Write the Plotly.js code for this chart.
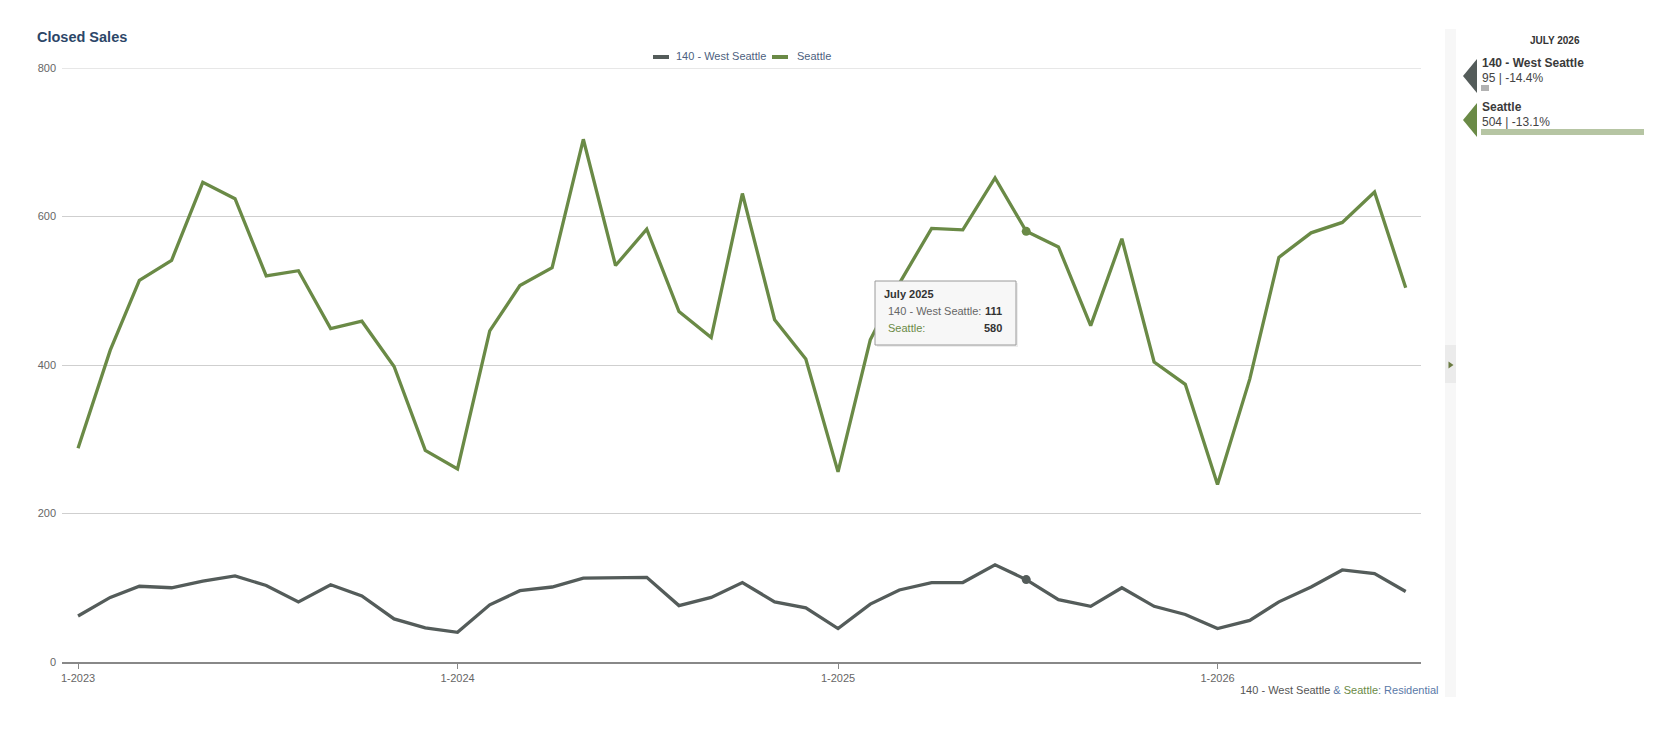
<!DOCTYPE html>
<html><head><meta charset="utf-8">
<script src="https://cdn.plot.ly/plotly-3.0.1.min.js"></script>
<style>html,body{margin:0;padding:0;background:#fff;overflow:hidden}#chart{width:1678px;height:740px}</style>
</head><body><div id="chart"></div>
<script>
// ---------------- DATA ----------------
const months = [
  '2023-01-01','2023-02-01','2023-03-01','2023-04-01','2023-05-01','2023-06-01','2023-07-01','2023-08-01','2023-09-01','2023-10-01','2023-11-01','2023-12-01',
  '2024-01-01','2024-02-01','2024-03-01','2024-04-01','2024-05-01','2024-06-01','2024-07-01','2024-08-01','2024-09-01','2024-10-01','2024-11-01','2024-12-01',
  '2025-01-01','2025-02-01','2025-03-01','2025-04-01','2025-05-01','2025-06-01','2025-07-01','2025-08-01','2025-09-01','2025-10-01','2025-11-01','2025-12-01',
  '2026-01-01','2026-02-01','2026-03-01','2026-04-01','2026-05-01','2026-06-01','2026-07-01'
];
const westSeattle = [
  62, 87, 102, 100, 109, 116, 103, 81, 104, 89, 58, 46,
  40, 77, 96, 101, 113, 114, 114, 76, 87, 107, 81, 73,
  45, 78, 97, 107, 107, 131, 111, 84, 75, 100, 75, 64,
  45, 56, 81, 101, 124, 119, 95
];
const seattle = [
  288, 420, 514, 541, 646, 624, 520, 527, 449, 459, 398, 285,
  260, 446, 507, 531, 704, 534, 583, 472, 437, 631, 461, 408,
  256, 434, 510, 584, 582, 652, 580, 559, 453, 570, 404, 374,
  239, 381, 545, 578, 592, 633, 504
];
const seriesNames = ['140 - West Seattle', 'Seattle'];
const yTicks = [0, 200, 400, 600, 800];
const xTickVals = ['2023-01-01', '2024-01-01', '2025-01-01', '2026-01-01'];
const xTickText = ['1-2023', '1-2024', '1-2025', '1-2026'];
const hoverMonth = '2025-07-01';
const monthNames = ['January','February','March','April','May','June','July','August','September','October','November','December'];
const chartTitle = 'Closed Sales';
const footerParts = ['140 - West Seattle', ' & ', 'Seattle', ': Residential'];

// ---------------- STYLE / LAYOUT ----------------
const FONT = 'Liberation Sans, Arial, Helvetica, sans-serif';
const C_WS = '#545c5a';
const C_SEA = '#6a8a46';
const C_SEA_LIGHT = '#b6c5a3';
const C_BLUE = '#4d5f80';
const C_LINK = '#5a79a8';

const M = {l: 62, r: 257, t: 68, b: 78};
const W = 1678, H = 740;
const PW = W - M.l - M.r, PH = H - M.t - M.b;
const px = x => (x - M.l) / PW;
const py = y => (H - M.b - y) / PH;

const hi = months.indexOf(hoverMonth);
const last = months.length - 1;
const yearAgo = last - 12;
function monthLabel(s) { const d = s.split('-'); return monthNames[+d[1] - 1] + ' ' + d[0]; }
function pct(a, b) { return ((a - b) / b * 100).toFixed(1) + '%'; }

const traces = [
  {x: months, y: westSeattle, type: 'scatter', mode: 'lines', name: seriesNames[0],
   line: {color: C_WS, width: 3.3}, hoverinfo: 'skip'},
  {x: months, y: seattle, type: 'scatter', mode: 'lines', name: seriesNames[1],
   line: {color: C_SEA, width: 3.3}, hoverinfo: 'skip'},
  {x: [months[hi]], y: [westSeattle[hi]], type: 'scatter', mode: 'markers', showlegend: false,
   marker: {color: C_WS, size: 9}, hoverinfo: 'skip'},
  {x: [months[hi]], y: [seattle[hi]], type: 'scatter', mode: 'markers', showlegend: false,
   marker: {color: C_SEA, size: 9}, hoverinfo: 'skip'}
];

const shapes = [];
const ann = [];

// top gridline (at range edge, drawn explicitly)
shapes.push({type: 'line', xref: 'paper', yref: 'y', x0: 0, x1: 1, y0: yTicks[yTicks.length - 1], y1: yTicks[yTicks.length - 1],
  line: {color: '#cfcfcf', width: 1}, layer: 'below'});

// title
ann.push({xref: 'paper', yref: 'paper', x: px(35), y: py(37), xanchor: 'left', yanchor: 'middle',
  text: '<b>' + chartTitle + '</b>', showarrow: false, font: {family: FONT, size: 14.5, color: '#2c4668'}});

// legend (manual)
const legendItems = [
  {sx: 653, tx: 674, color: C_WS, name: seriesNames[0]},
  {sx: 772, tx: 795, color: C_SEA, name: seriesNames[1]}
];
legendItems.forEach(it => {
  shapes.push({type: 'line', xref: 'paper', yref: 'paper', x0: px(it.sx), x1: px(it.sx + 16), y0: py(57), y1: py(57),
    line: {color: it.color, width: 4}});
  ann.push({xref: 'paper', yref: 'paper', x: px(it.tx), y: py(56.5), xanchor: 'left', yanchor: 'middle',
    text: it.name, showarrow: false, font: {family: FONT, size: 11, color: C_BLUE}});
});

// tooltip
const tb = {x0: 875, x1: 1016, y0: 281, y1: 345};
shapes.push({type: 'rect', xref: 'paper', yref: 'paper', x0: px(tb.x0 + 2), x1: px(tb.x1 + 2), y0: py(tb.y0 + 2), y1: py(tb.y1 + 2),
  fillcolor: 'rgba(0,0,0,0.07)', line: {width: 0}});
shapes.push({type: 'rect', xref: 'paper', yref: 'paper', x0: px(tb.x0), x1: px(tb.x1), y0: py(tb.y0), y1: py(tb.y1),
  fillcolor: '#f7f7f7', line: {color: '#9a9a9a', width: 1}});
ann.push({xref: 'paper', yref: 'paper', x: px(882), y: py(294), xanchor: 'left', yanchor: 'middle',
  text: '<b>' + monthLabel(hoverMonth) + '</b>', showarrow: false, font: {family: FONT, size: 11, color: '#333'}});
ann.push({xref: 'paper', yref: 'paper', x: px(886), y: py(311), xanchor: 'left', yanchor: 'middle',
  text: seriesNames[0] + ':', showarrow: false, font: {family: FONT, size: 11, color: '#666'}});
ann.push({xref: 'paper', yref: 'paper', x: px(1004), y: py(311), xanchor: 'right', yanchor: 'middle',
  text: '<b>' + westSeattle[hi] + '</b>', showarrow: false, font: {family: FONT, size: 11, color: '#333'}});
ann.push({xref: 'paper', yref: 'paper', x: px(886), y: py(328), xanchor: 'left', yanchor: 'middle',
  text: seriesNames[1] + ':', showarrow: false, font: {family: FONT, size: 11, color: C_SEA}});
ann.push({xref: 'paper', yref: 'paper', x: px(1004), y: py(328), xanchor: 'right', yanchor: 'middle',
  text: '<b>' + seattle[hi] + '</b>', showarrow: false, font: {family: FONT, size: 11, color: '#333'}});

// footer
ann.push({xref: 'paper', yref: 'paper', x: px(1441), y: py(690), xanchor: 'right', yanchor: 'middle', showarrow: false,
  text: '<span style="color:#555">' + footerParts[0] + '</span><span style="color:' + C_LINK + '">' + footerParts[1] +
        '</span><span style="color:' + C_SEA + '">' + footerParts[2] + '</span><span style="color:' + C_LINK + '">' + footerParts[3] + '</span>',
  font: {family: FONT, size: 11, color: '#555'}});

// sidebar strip + toggle button
shapes.push({type: 'rect', xref: 'paper', yref: 'paper', x0: px(1445), x1: px(1456), y0: py(29), y1: py(697),
  fillcolor: '#f7f7f7', line: {width: 0}, layer: 'below'});
shapes.push({type: 'rect', xref: 'paper', yref: 'paper', x0: px(1445), x1: px(1456), y0: py(345), y1: py(383),
  fillcolor: '#ebebeb', line: {width: 0}, layer: 'below'});
shapes.push({type: 'path', xref: 'paper', yref: 'paper',
  path: `M ${px(1448.5)},${py(361.5)} L ${px(1453.5)},${py(365)} L ${px(1448.5)},${py(368.5)} Z`,
  fillcolor: '#6b7b42', line: {width: 0}});

// sidebar panel
ann.push({xref: 'paper', yref: 'paper', x: px(1555), y: py(40), xanchor: 'center', yanchor: 'middle',
  text: '<b>' + monthLabel(months[last]).toUpperCase() + '</b>', showarrow: false, font: {family: FONT, size: 10, color: '#333'}});

const panel = [
  {top: 59, color: C_WS, name: seriesNames[0], v: westSeattle[last], p: pct(westSeattle[last], westSeattle[yearAgo]),
   barColor: '#b2b2b2', barW: 8, barY: [85, 91]},
  {top: 103, color: C_SEA, name: seriesNames[1], v: seattle[last], p: pct(seattle[last], seattle[yearAgo]),
   barColor: C_SEA_LIGHT, barW: 163, barY: [129, 135]}
];
panel.forEach(it => {
  shapes.push({type: 'path', xref: 'paper', yref: 'paper',
    path: `M ${px(1477)},${py(it.top)} L ${px(1463)},${py(it.top + 17)} L ${px(1477)},${py(it.top + 34)} Z`,
    fillcolor: it.color, line: {width: 0}});
  ann.push({xref: 'paper', yref: 'paper', x: px(1480), y: py(it.top + 4), xanchor: 'left', yanchor: 'middle',
    text: '<b>' + it.name + '</b>', showarrow: false, font: {family: FONT, size: 12, color: '#3a3a3a'}});
  ann.push({xref: 'paper', yref: 'paper', x: px(1480), y: py(it.top + 18.5), xanchor: 'left', yanchor: 'middle',
    text: it.v + ' | ' + it.p, showarrow: false, font: {family: FONT, size: 12, color: '#444'}});
  shapes.push({type: 'rect', xref: 'paper', yref: 'paper', x0: px(1481), x1: px(1481 + it.barW), y0: py(it.barY[0]), y1: py(it.barY[1]),
    fillcolor: it.barColor, line: {width: 0}});
});

const layout = {
  width: W, height: H,
  margin: M,
  paper_bgcolor: '#fff', plot_bgcolor: '#fff',
  showlegend: false,
  font: {family: FONT, size: 11, color: '#666'},
  xaxis: {
    type: 'date',
    range: ['2022-12-16 14:00', '2026-07-15 17:00'],
    tickmode: 'array', tickvals: xTickVals, ticktext: xTickText,
    ticks: 'outside', ticklen: 5, tickwidth: 1, tickcolor: '#888',
    showline: true, linecolor: '#888', linewidth: 1.5,
    showgrid: false, zeroline: false,
    tickfont: {family: FONT, size: 11, color: '#666'}
  },
  yaxis: {
    range: [0, 800], tickmode: 'array', tickvals: yTicks,
    showgrid: true, gridcolor: '#cfcfcf', gridwidth: 1,
    zeroline: false, showline: false, ticks: '',
    ticklabelstandoff: 5,
    tickfont: {family: FONT, size: 11, color: '#666'}
  },
  shapes: shapes,
  annotations: ann
};

Plotly.newPlot('chart', traces, layout, {staticPlot: true, displayModeBar: false});
</script></body></html>
